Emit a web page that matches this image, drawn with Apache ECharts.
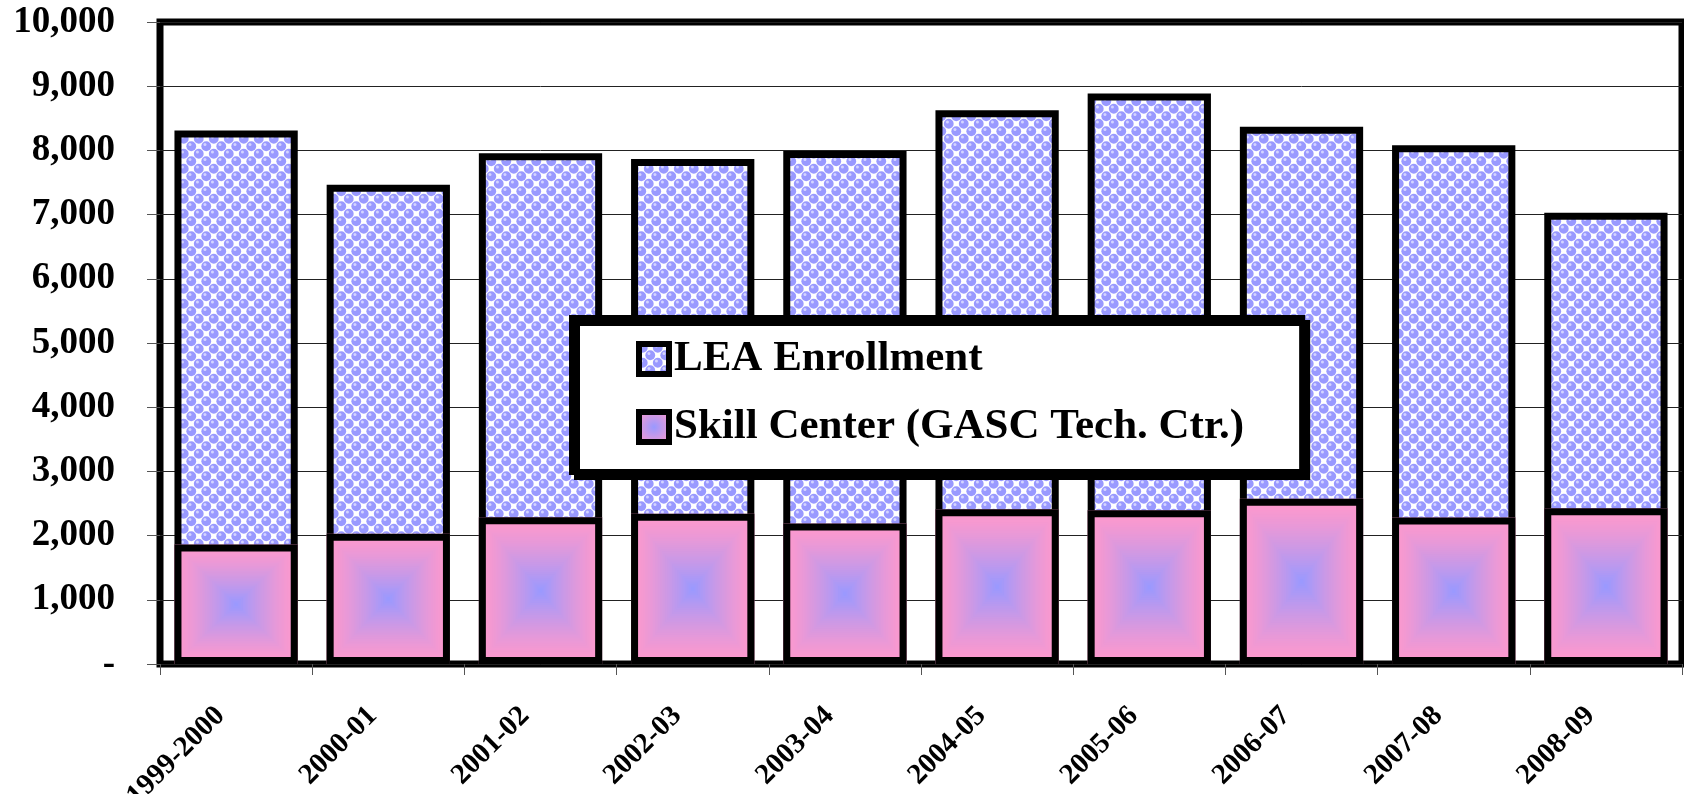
<!DOCTYPE html>
<html>
<head>
<meta charset="utf-8">
<title>LEA Enrollment and Skill Center</title>
<script src="https://cdn.jsdelivr.net/npm/echarts@6/dist/echarts.min.js"></script>
<style>
    html, body { margin: 0; padding: 0; background: #fff; }
    #chart { width: 1684px; height: 794px; }
</style>
</head>
<body>
<div id="chart"></div>
<script>
// school years on the x axis
const years = ['1999-2000', '2000-01', '2001-02', '2002-03', '2003-04',
    '2004-05', '2005-06', '2006-07', '2007-08', '2008-09'];

// bottom part of each bar
const skillCenter = [1860, 2030, 2285, 2340, 2190, 2410, 2395, 2575, 2280, 2425];
// top part, sits on the skill center
const leaEnrollment = [6450, 5435, 5670, 5525, 5800, 6215, 6490, 5795, 5800, 4605];

// y axis range
const yMin = 0;
const yMax = 10000;
const yStep = 1000;

// the LEA bar is drawn full height behind the skill center bar,
// so the two black borders don't double up where they meet
const barTops = leaEnrollment.map((v, i) => v + skillCenter[i]);

const BAR_SHARE = 0.81;
const BORDER = 7;
const PINK = [255, 153, 204];
const BLUE = [153, 153, 255];

// small tile with blue bubbles, repeated as the LEA fill
function bubbleTile() {
    const size = 15;
    const c = document.createElement('canvas');
    c.width = size;
    c.height = size;
    const ctx = c.getContext('2d');
    ctx.fillStyle = '#fff';
    ctx.fillRect(0, 0, size, size);
    const centers = [[3.75, 3.75], [11.25, 11.25]];
    for (let dx = -size; dx <= size; dx += size) {
        for (let dy = -size; dy <= size; dy += size) {
            centers.forEach(p => {
                const x = p[0] + dx, y = p[1] + dy;
                ctx.fillStyle = '#9999ff';
                ctx.beginPath();
                ctx.arc(x, y, 4.9, 0, Math.PI * 2);
                ctx.fill();
                ctx.fillStyle = '#d4d4ff';
                ctx.beginPath();
                ctx.arc(x - 1.3, y - 1.8, 1.5, 0, Math.PI * 2);
                ctx.fill();
            });
        }
    }
    return c;
}

function mix(t) {
    const c = PINK.map((p, k) => Math.round(p + (BLUE[k] - p) * t));
    return 'rgb(' + c.join(',') + ')';
}

// skill center bar: rectangular "from centre" gradient, like the original
function renderSkill(params, api) {
    const top = api.coord([api.value(0), api.value(1)]);
    const base = api.coord([api.value(0), 0]);
    const w = api.size([1, 0])[0] * BAR_SHARE;
    const x0 = top[0] - w / 2;
    const y0 = top[1];
    const h = base[1] - top[1];
    const steps = 36;
    const children = [];
    for (let k = 0; k < steps; k++) {
        const t = k / steps;
        children.push({
            type: 'rect',
            shape: {
                x: x0 + t * w / 2,
                y: y0 + t * h / 2,
                width: w * (1 - t),
                height: h * (1 - t)
            },
            style: { fill: mix(Math.pow(t + 0.5 / steps, 1.35)) }
        });
    }
    children.push({
        type: 'rect',
        shape: {
            x: x0 + BORDER / 2,
            y: y0 + BORDER / 2,
            width: w - BORDER,
            height: h - BORDER
        },
        style: { fill: 'none', stroke: '#000', lineWidth: BORDER }
    });
    return { type: 'group', children: children };
}

const chart = echarts.init(document.getElementById('chart'));

const serifBold = {
    fontFamily: 'Liberation Serif',
    fontWeight: 'bold',
    color: '#000'
};

const option = {
    animation: false,
    grid: {
        left: 160,
        right: 2,
        top: 22,
        bottom: 130,
        outerBoundsMode: 'none',
        show: true,
        borderColor: '#000',
        borderWidth: 7,
        backgroundColor: '#fff'
    },
    legend: {
        data: ['LEA Enrollment', 'Skill Center (GASC Tech. Ctr.)'],
        orient: 'vertical',
        left: 572,
        top: 318,
        padding: [18, 58, 22, 64],
        itemWidth: 30,
        itemHeight: 30,
        itemGap: 22,
        icon: 'rect',
        selectedMode: false,
        backgroundColor: '#fff',
        borderColor: '#000',
        borderWidth: 6,
        shadowColor: '#000',
        shadowBlur: 0,
        shadowOffsetX: 5,
        shadowOffsetY: 5,
        itemStyle: { borderColor: '#000', borderWidth: 6 },
        textStyle: Object.assign({ fontSize: 43, lineHeight: 46 }, serifBold)
    },
    xAxis: {
        type: 'category',
        data: years,
        axisLine: { show: false },
        axisTick: { show: true, length: 11, lineStyle: { color: '#555' } },
        axisLabel: Object.assign({
            rotate: 45,
            fontSize: 29,
            margin: 32,
            padding: [0, 22, 0, 0],
            interval: 0
        }, serifBold)
    },
    yAxis: {
        type: 'value',
        min: yMin,
        max: yMax,
        interval: yStep,
        axisLine: { show: false },
        axisTick: { show: true, length: 13, lineStyle: { color: '#555' } },
        splitLine: { lineStyle: { color: '#222', width: 1 } },
        axisLabel: Object.assign({
            fontSize: 37,
            margin: 45,
            formatter: v => v === 0 ? '-' : v.toLocaleString('en-US')
        }, serifBold)
    },
    series: [
        {
            name: 'LEA Enrollment',
            type: 'bar',
            z: 2,
            barWidth: (BAR_SHARE * 100) + '%',
            data: barTops,
            itemStyle: {
                color: { image: bubbleTile(), repeat: 'repeat' },
                borderColor: '#000',
                borderWidth: BORDER
            }
        },
        {
            name: 'Skill Center (GASC Tech. Ctr.)',
            type: 'custom',
            z: 5,
            renderItem: renderSkill,
            encode: { x: 0, y: 1 },
            data: skillCenter.map((v, i) => [i, v]),
            itemStyle: {
                color: new echarts.graphic.RadialGradient(0.5, 0.5, 0.6, [
                    { offset: 0, color: '#9999ff' },
                    { offset: 1, color: '#ff99cc' }
                ])
            }
        }
    ]
};

chart.setOption(option);
</script>
</body>
</html>
